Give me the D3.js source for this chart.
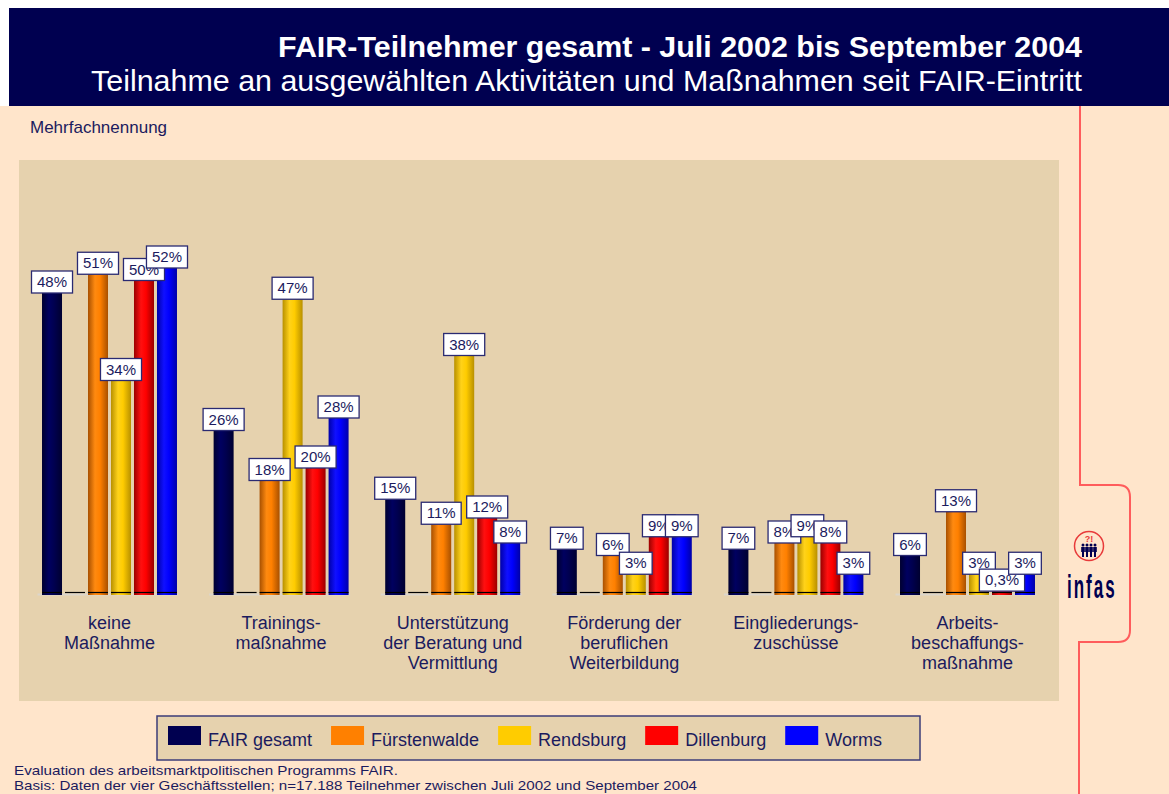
<!DOCTYPE html>
<html>
<head>
<meta charset="utf-8">
<script src="https://cdn.jsdelivr.net/npm/d3@7"></script>
<style>
  body { margin: 0; background: #fff; }
  svg { display: block; font-family: "Liberation Sans", Arial, sans-serif; }
</style>
</head>
<body>
<div id="chart"></div>
<script>

// Data -----------

var categories = [
  "keine\nMaßnahme",
  "Trainings-\nmaßnahme",
  "Unterstützung\nder Beratung und\nVermittlung",
  "Förderung der\nberuflichen\nWeiterbildung",
  "Eingliederungs-\nzuschüsse",
  "Arbeits-\nbeschaffungs-\nmaßnahme"
];

var seriesNames = ["FAIR gesamt", "Fürstenwalde", "Rendsburg", "Dillenburg", "Worms"];

var fairGesamt    = [48, 26, 15, 7, 7, 6];
var fuerstenwalde = [51, 18, 11, 6, 8, 13];
var rendsburg     = [34, 47, 38, 3, 9, 3];
var dillenburg    = [50, 20, 12, 9, 8, 0.3];
var worms         = [52, 28, 8, 9, 3, 3];

var seriesValues = [fairGesamt, fuerstenwalde, rendsburg, dillenburg, worms];

// slot order inside a group, the second slot stays empty
var slots = ["FAIR gesamt", "", "Fürstenwalde", "Rendsburg", "Dillenburg", "Worms"];

var title    = "FAIR-Teilnehmer gesamt - Juli 2002 bis September 2004";
var subtitle = "Teilnahme an ausgewählten Aktivitäten und Maßnahmen seit FAIR-Eintritt";
var note     = "Mehrfachnennung";
var footer   = ["Evaluation des arbeitsmarktpolitischen Programms FAIR.",
                "Basis: Daten der vier Geschäftsstellen; n=17.188 Teilnehmer zwischen Juli 2002 und September 2004"];

// Styles -----------

var width = 1169, height = 794;
var navy = "#000050";
var ink = "#1b1b5e";
var peach = "#ffe5cb";
var tan = "#e6d2ae";
var redLine = "#ff5c5c";

var colors = {
  "FAIR gesamt":  {flat: "#000050", dark: "#000030", light: "#000060"},
  "Fürstenwalde": {flat: "#ff8000", dark: "#a85000", light: "#ff8a10"},
  "Rendsburg":    {flat: "#ffcc00", dark: "#b89000", light: "#ffd21a"},
  "Dillenburg":   {flat: "#ff0000", dark: "#9a0000", light: "#ff1010"},
  "Worms":        {flat: "#0000ff", dark: "#0000a8", light: "#1010ff"}
};

var plot = {left: 19, top: 160, right: 1059, bottom: 701};

var svg = d3.select("#chart").append("svg")
  .attr("width", width)
  .attr("height", height);

/****************************************
* Backgrounds
*****************************************/

svg.append("rect")
  .attr("x", 0).attr("y", 106)
  .attr("width", width).attr("height", height - 106)
  .style("fill", peach);

svg.append("rect")
  .attr("x", 9).attr("y", 8)
  .attr("width", width - 9).attr("height", 98)
  .style("fill", navy);

svg.append("rect")
  .attr("x", plot.left).attr("y", plot.top)
  .attr("width", plot.right - plot.left).attr("height", plot.bottom - plot.top)
  .style("fill", tan);

// folder tab line on the right
svg.append("path")
  .attr("d", "M1080,106 V485 H1118 Q1130,485 1130,497 V630 Q1130,642 1118,642 H1079 V794")
  .attr("fill", "none")
  .attr("stroke", redLine)
  .attr("stroke-width", 2);

/****************************************
* Titles
*****************************************/

svg.append("text")
  .attr("x", 1082).attr("y", 57)
  .attr("text-anchor", "end")
  .attr("textLength", 804)
  .attr("lengthAdjust", "spacingAndGlyphs")
  .style("font-size", "30px")
  .style("font-weight", "bold")
  .style("fill", "#fff")
  .text(title);

svg.append("text")
  .attr("x", 1082).attr("y", 91)
  .attr("text-anchor", "end")
  .attr("textLength", 991)
  .attr("lengthAdjust", "spacingAndGlyphs")
  .style("font-size", "30px")
  .style("fill", "#fff")
  .text(subtitle);

svg.append("text")
  .attr("x", 30).attr("y", 133)
  .style("font-size", "17px")
  .style("fill", ink)
  .text(note);

/****************************************
* Scales
*****************************************/

var x0 = d3.scaleBand()
  .domain(categories)
  .range([23.7, 1053.3])
  .paddingInner(0.196)
  .paddingOuter(0.098);

var x1 = d3.scaleBand()
  .domain(slots)
  .range([0, x0.bandwidth()])
  .paddingInner(0.13)
  .paddingOuter(0.065);

var y = d3.scaleLinear()
  .domain([0, 60])
  .range([593, 218]);

var fmt = function(v) { return String(v).replace(".", ",") + "%"; };

// cylinder gradients
var defs = svg.append("defs");
seriesNames.forEach(function(name, i) {
  var g = defs.append("linearGradient")
    .attr("id", "grad" + i)
    .attr("x1", "0%").attr("y1", "0%")
    .attr("x2", "100%").attr("y2", "0%");
  g.append("stop").attr("offset", "0%").attr("stop-color", colors[name].dark);
  g.append("stop").attr("offset", "35%").attr("stop-color", colors[name].light);
  g.append("stop").attr("offset", "60%").attr("stop-color", colors[name].flat);
  g.append("stop").attr("offset", "100%").attr("stop-color", colors[name].dark);
});

/****************************************
* Bars
*****************************************/

var groups = svg.append("g").selectAll("g")
  .data(categories)
  .join("g")
  .attr("transform", function(d) { return "translate(" + x0(d) + ",0)"; });

// light axis line under each group
groups.append("line")
  .attr("x1", -3)
  .attr("x2", x0.bandwidth())
  .attr("y1", y(0) + 1.5)
  .attr("y2", y(0) + 1.5)
  .attr("stroke", "#dcd6cc")
  .attr("stroke-width", 2);

seriesNames.forEach(function(name, s) {
  groups.append("rect")
    .attr("x", x1(name))
    .attr("y", function(d, i) { return y(seriesValues[s][i]); })
    .attr("width", x1.bandwidth())
    .attr("height", function(d, i) { return y(0) - y(seriesValues[s][i]) + 2; })
    .style("fill", "url(#grad" + s + ")");
});

// black baseline pieces over each slot
groups.selectAll("line.base")
  .data(slots)
  .join("line")
  .attr("class", "base")
  .attr("x1", function(d) { return x1(d); })
  .attr("x2", function(d) { return x1(d) + x1.bandwidth(); })
  .attr("y1", y(0) - 0.5)
  .attr("y2", y(0) - 0.5)
  .attr("stroke", "#000")
  .attr("stroke-width", 1.2);

/****************************************
* Value labels
*****************************************/

seriesNames.forEach(function(name, s) {
  var lab = groups.append("g")
    .attr("transform", function(d, i) {
      return "translate(" + (x1(name) + x1.bandwidth() / 2) + "," + y(seriesValues[s][i]) + ")";
    });

  var txt = lab.append("text")
    .attr("y", -6)
    .attr("text-anchor", "middle")
    .style("font-size", "15px")
    .style("fill", ink)
    .text(function(d, i) { return fmt(seriesValues[s][i]); });

  lab.insert("rect", "text")
    .each(function(d, i) {
      var w = txt.nodes()[i].getComputedTextLength() + 11;
      d3.select(this)
        .attr("x", -w / 2)
        .attr("y", -22)
        .attr("width", w)
        .attr("height", 22);
    })
    .style("fill", "#fff")
    .style("stroke", "#2a2a72")
    .style("stroke-width", 1.3);
});

/****************************************
* Category labels
*****************************************/

groups.append("text")
  .attr("text-anchor", "middle")
  .style("font-size", "18px")
  .style("fill", ink)
  .selectAll("tspan")
  .data(function(d) { return d.split("\n"); })
  .join("tspan")
  .attr("x", x0.bandwidth() / 2)
  .attr("y", function(d, i) { return 629 + i * 20; })
  .text(function(d) { return d; });

/****************************************
* Legend
*****************************************/

var legend = svg.append("g");

legend.append("rect")
  .attr("x", 157).attr("y", 716)
  .attr("width", 763).attr("height", 44)
  .style("fill", tan)
  .style("stroke", "#3c3c78")
  .style("stroke-width", 1.5);

var lx = 168;
seriesNames.forEach(function(name) {
  legend.append("rect")
    .attr("x", lx).attr("y", 726)
    .attr("width", 33).attr("height", 19)
    .style("fill", colors[name].flat);
  var t = legend.append("text")
    .attr("x", lx + 40).attr("y", 746)
    .style("font-size", "18px")
    .style("fill", ink)
    .text(name);
  lx += 40 + t.node().getComputedTextLength() + 19;
});

/****************************************
* Footer
*****************************************/

svg.append("text")
  .attr("x", 14).attr("y", 775)
  .attr("textLength", 384)
  .attr("lengthAdjust", "spacingAndGlyphs")
  .style("font-size", "13.5px")
  .style("fill", ink)
  .text(footer[0]);

svg.append("text")
  .attr("x", 14).attr("y", 790)
  .attr("textLength", 683)
  .attr("lengthAdjust", "spacingAndGlyphs")
  .style("font-size", "13.5px")
  .style("fill", ink)
  .text(footer[1]);

/****************************************
* infas logo
*****************************************/

var logo = svg.append("g").attr("transform", "translate(1089,546)");

logo.append("circle")
  .attr("r", 14.5)
  .attr("fill", "none")
  .attr("stroke", "#e83a3a")
  .attr("stroke-width", 1.5);

logo.append("text")
  .attr("y", -4)
  .attr("text-anchor", "middle")
  .style("font-size", "9px")
  .style("font-weight", "bold")
  .style("fill", "#e83a3a")
  .text("?!");

[-6, -2, 2, 6].forEach(function(dx) {
  logo.append("circle")
    .attr("cx", dx).attr("cy", -1)
    .attr("r", 1.5)
    .attr("fill", navy);
  logo.append("path")
    .attr("d", "M" + (dx - 1.8) + ",1 h3.6 v5 h-0.8 v5 h-2 v-5 h-0.8 z")
    .attr("fill", navy);
});

svg.append("g")
  .attr("transform", "translate(1067,598) scale(0.5,1)")
  .append("text")
  .attr("x", 0).attr("y", 0)
  .style("font-size", "34px")
  .style("font-weight", "bold")
  .style("letter-spacing", "4px")
  .style("fill", navy)
  .text("infas");

</script>
</body>
</html>
